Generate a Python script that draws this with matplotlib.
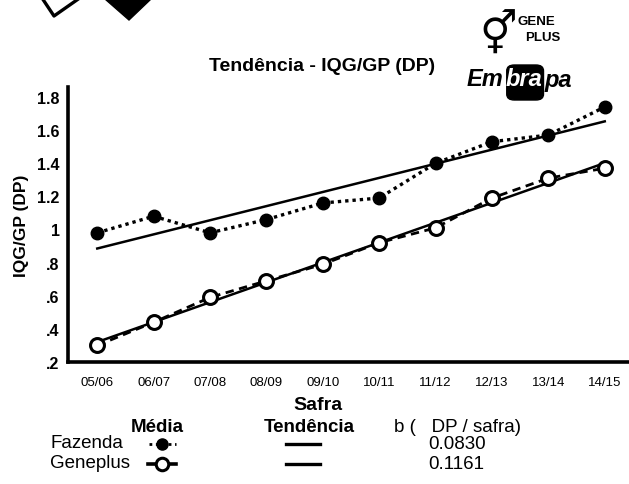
import numpy as np
import matplotlib.pyplot as plt
from matplotlib.lines import Line2D
from matplotlib.patches import Polygon, FancyBboxPatch

plt.rcParams['font.family'] = ['Liberation Sans', 'DejaVu Sans']

safras = ['05/06', '06/07', '07/08', '08/09', '09/10',
          '10/11', '11/12', '12/13', '13/14', '14/15']
fazenda = [0.98, 1.08, 0.98, 1.06, 1.16, 1.19, 1.40, 1.53, 1.57, 1.74]
geneplus = [0.30, 0.44, 0.59, 0.69, 0.79, 0.92, 1.01, 1.19, 1.31, 1.37]
yticks = [0.2, 0.4, 0.6, 0.8, 1.0, 1.2, 1.4, 1.6, 1.8]
ytick_labels = ['.2', '.4', '.6', '.8', '1', '1.2', '1.4', '1.6', '1.8']
slopes_txt = ['0.0830', '0.1161']

x = np.arange(len(safras))

fig = plt.figure(figsize=(6.29, 4.85), dpi=100)
ax = fig.add_axes([0.108, 0.2515, 0.892, 0.567])

# trend lines (least squares)
for serie in (fazenda, geneplus):
    b, a = np.polyfit(x, serie, 1)
    ax.plot(x, a + b * x, color='black', lw=1.8, zorder=2)

ax.plot(x, fazenda, color='black', ls=(0, (1, 1.2)), lw=2.4, marker='o',
        ms=9, mfc='black', mec='black', zorder=3)
ax.plot(x, geneplus, color='black', ls=(0, (3, 2)), lw=2.0, marker='o',
        ms=10, mfc='white', mec='black', mew=2.2, zorder=4)

ax.set_xlim(-0.52, 9.43)
ax.set_ylim(0.2, 1.86)
ax.set_xticks(x)
ax.set_xticklabels(safras, fontsize=9.5)
ax.set_yticks(yticks)
ax.set_yticklabels(ytick_labels, fontsize=11.5, fontweight='bold')
ax.tick_params(length=0, pad=6)
ax.tick_params(axis='x', pad=10)
for s in ('top', 'right'):
    ax.spines[s].set_visible(False)
for s in ('left', 'bottom'):
    ax.spines[s].set_linewidth(2.6)
ax.set_ylabel('IQG/GP (DP)', fontsize=12.5, fontweight='bold', labelpad=6)


def fy(py):
    return 1 - py / 485


def fx(px):
    return px / 629


fig.text(fx(322), fy(67), 'Tendência - IQG/GP (DP)', ha='center', va='center',
         fontsize=14, fontweight='bold')
fig.text(fx(318), fy(406), 'Safra', ha='center', va='center',
         fontsize=14, fontweight='bold')

# legend block at bottom
fs = 13.5
fig.text(fx(157), fy(428), 'Média', ha='center', va='center', fontsize=fs, fontweight='bold')
fig.text(fx(309), fy(428), 'Tendência', ha='center', va='center', fontsize=fs, fontweight='bold')
fig.text(fx(394), fy(428), 'b (   DP / safra)', ha='left', va='center', fontsize=fs)
fig.text(fx(50), fy(444), 'Fazenda', ha='left', va='center', fontsize=fs)
fig.text(fx(50), fy(464), 'Geneplus', ha='left', va='center', fontsize=fs)
for i, txt in enumerate(slopes_txt):
    fig.text(fx(428), fy(445 + 20 * i), txt, ha='left', va='center', fontsize=fs)
    fig.add_artist(Line2D([fx(286), fx(320)], [fy(445 + 20 * i)] * 2,
                          color='black', lw=2.4, transform=fig.transFigure))
fig.add_artist(Line2D([fx(149), fx(176)], [fy(445)] * 2, color='black',
                      ls=(0, (1, 1.3)), lw=2.0, transform=fig.transFigure))
fig.add_artist(Line2D([fx(162)], [fy(445)], color='black', marker='o', ms=8,
                      mfc='black', transform=fig.transFigure))
fig.add_artist(Line2D([fx(148), fx(176)], [fy(465)] * 2, color='black',
                      lw=2.6, transform=fig.transFigure))
fig.add_artist(Line2D([fx(162)], [fy(465)], color='black', marker='o', ms=9,
                      mfc='white', mew=2.2, transform=fig.transFigure))

# decorative clipped diamonds at top-left
fig.add_artist(Line2D([fx(40), fx(54), fx(84)], [fy(-4), fy(17), fy(-4)],
                      color='black', lw=2.4, transform=fig.transFigure))
fig.add_artist(Polygon([[fx(105), fy(0)], [fx(151), fy(0)], [fx(129), fy(21)]],
                       closed=True, color='black', transform=fig.transFigure))

# GenePlus logo
fig.text(fx(498), fy(36), '⚥', ha='center', va='center', fontsize=30,
         fontweight='bold', family='DejaVu Sans')
fig.text(fx(518), fy(22), 'GENE', ha='left', va='center', fontsize=9.5, fontweight='bold')
fig.text(fx(525), fy(38), 'PLUS', ha='left', va='center', fontsize=9.5, fontweight='bold')

# Embrapa logo: "bra" in white on a black block
renderer = fig.canvas.get_renderer()
xpos = fx(467)
for part, col in (('Em', 'black'), ('bra', 'white'), ('pa', 'black')):
    t = fig.text(xpos, fy(80), part, ha='left', va='center', fontsize=17,
                 fontweight='bold', style='italic', color=col, zorder=5)
    bb = t.get_window_extent(renderer)
    w = bb.width / fig.bbox.width
    if part == 'bra':
        fig.add_artist(FancyBboxPatch((xpos + fx(1), fy(101)), w, fy(66) - fy(101),
                                      boxstyle='round,pad=0.0,rounding_size=0.012',
                                      color='black', transform=fig.transFigure, zorder=4))
    xpos += w + fx(2)

fig.savefig('out.png', dpi=100)
